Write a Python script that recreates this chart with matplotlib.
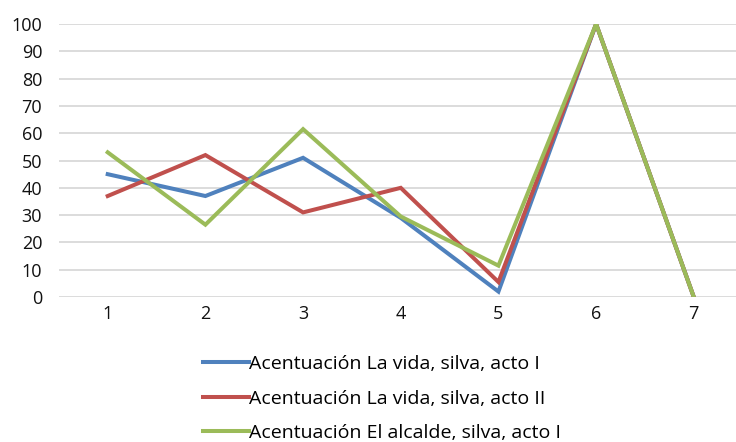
import matplotlib
matplotlib.use("Agg")
from matplotlib import pyplot as plt

plt.rcParams['font.family'] = ['Open Sans', 'DejaVu Sans']

categories = [1, 2, 3, 4, 5, 6, 7]
vida_acto1 = [45, 37, 51, 29, 2, 100, 0]
vida_acto2 = [37, 52, 31, 40, 5.5, 100, 0]
alcalde_acto1 = [53, 26.5, 61.5, 29.5, 11.5, 100, 0]
labels = ['Acentuación La vida, silva, acto I',
          'Acentuación La vida, silva, acto II',
          'Acentuación El alcalde, silva, acto I']
colors = ['#4F81BD', '#C0504D', '#9BBB59']

fig = plt.figure(figsize=(7.36, 4.42), dpi=100)
ax = fig.add_axes([0.080, 0.328, 0.929, 0.6176])

for series, label, color in zip([vida_acto1, vida_acto2, alcalde_acto1], labels, colors):
    ax.plot(categories, series, color=color, lw=2.9, label=label, solid_joinstyle='miter')

ax.set_xlim(0.5, 7.5)
ax.set_ylim(0, 100)
ax.set_yticks(range(0, 101, 10))
ax.set_xticks(categories)
ax.grid(axis='y', color='#d9d9d9', lw=1.3)
ax.set_axisbelow(True)
for s in ax.spines.values():
    s.set_visible(False)
ax.tick_params(length=0, labelsize=13, colors='#111111')
ax.tick_params(axis='y', pad=12)
ax.tick_params(axis='x', pad=6)

fig.legend(loc='center', bbox_to_anchor=(0.519, 0.098), frameon=False, fontsize=14,
           handlelength=2.4, handletextpad=0.0, labelspacing=0.85)

fig.savefig('out.png', dpi=100)
